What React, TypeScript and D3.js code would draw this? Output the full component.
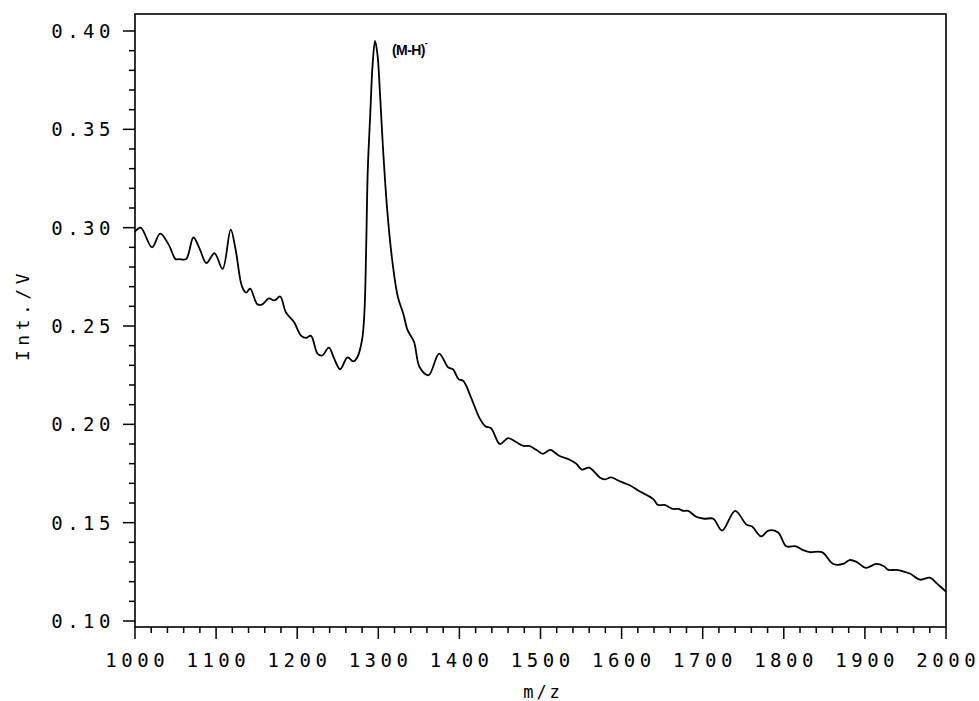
import { useEffect, useRef } from "react"
import * as d3 from "d3"

// spectrum: m/z and intensity (V)
const mz = [
  1000, 1007, 1021, 1031, 1042, 1050, 1054, 1063, 1072, 1080, 1088, 1098, 1108, 1118, 1124, 1132, 1137, 1142,
  1151, 1157, 1165, 1172, 1179, 1186, 1196, 1205, 1211, 1217, 1225, 1231, 1239, 1246, 1253, 1262, 1269, 1274,
  1280, 1283, 1285, 1287, 1290, 1293, 1296, 1299, 1302, 1306, 1311, 1317, 1324, 1331, 1336, 1344, 1351, 1362,
  1375, 1386, 1392, 1399, 1405, 1414, 1425, 1432, 1439, 1450, 1460, 1470, 1479, 1486, 1495, 1503, 1512, 1523,
  1536, 1544, 1551, 1560, 1573, 1579, 1587, 1598, 1610, 1622, 1639, 1645, 1653, 1663, 1670, 1676, 1682, 1692,
  1702, 1713, 1724, 1740, 1754, 1761, 1772, 1781, 1793, 1803, 1815, 1824, 1832, 1847, 1861, 1873, 1881, 1890,
  1901, 1914, 1923, 1929, 1939, 1949, 1956, 1968, 1980, 1989, 1997, 2000,
]
const intensity = [
  0.298, 0.3, 0.29, 0.297, 0.291, 0.284, 0.284, 0.284, 0.295, 0.289, 0.282, 0.287, 0.279, 0.299, 0.289, 0.27, 0.267, 0.269,
  0.261, 0.261, 0.264, 0.263, 0.265, 0.257, 0.252, 0.245, 0.244, 0.245, 0.236, 0.235, 0.239, 0.233, 0.228, 0.234, 0.232, 0.234,
  0.243, 0.258, 0.289, 0.329, 0.357, 0.383, 0.395, 0.388, 0.369, 0.339, 0.309, 0.284, 0.265, 0.256, 0.248, 0.242, 0.229, 0.225,
  0.236, 0.229, 0.228, 0.223, 0.222, 0.214, 0.203, 0.199, 0.198, 0.19, 0.193, 0.191, 0.189, 0.189, 0.187, 0.185, 0.187, 0.184,
  0.182, 0.18, 0.177, 0.178, 0.173, 0.172, 0.173, 0.171, 0.169, 0.166, 0.162, 0.159, 0.159, 0.157, 0.157, 0.156, 0.156, 0.153,
  0.152, 0.152, 0.146, 0.156, 0.149, 0.148, 0.143, 0.146, 0.145, 0.138, 0.138, 0.136, 0.135, 0.135, 0.129, 0.129, 0.131, 0.13,
  0.127, 0.129, 0.128, 0.126, 0.126, 0.125, 0.124, 0.121, 0.122, 0.119, 0.116, 0.115,
]

const xTicks = [1000, 1100, 1200, 1300, 1400, 1500, 1600, 1700, 1800, 1900, 2000]
const yTicks = [0.1, 0.15, 0.2, 0.25, 0.3, 0.35, 0.4]
const peakLabel = { mz: 1296, value: 0.395, text: "(M-H)" }

const FONT = "'DejaVu Sans Mono', monospace"

export default function App() {
  const svgRef = useRef<SVGSVGElement>(null)

  useEffect(() => {
    if (!svgRef.current) return
    const svg = d3.select(svgRef.current)
    svg.selectAll("*").remove()

    const left = 135
    const right = 946
    const top = 14
    const bottom = 627

    const x = d3.scaleLinear().domain([1000, 2000]).range([left, right])
    const y = d3.scaleLinear().domain([0.1, 0.4]).range([621, 31])

    // frame
    svg.append("rect")
      .attr("x", left)
      .attr("y", top)
      .attr("width", right - left)
      .attr("height", bottom - top)
      .attr("fill", "none")
      .attr("stroke", "#000")
      .attr("stroke-width", 1.6)

    // minor ticks every 20 on x, every 0.01 on y
    const xMinor = d3.range(1000, 2001, 20)
    const yMinor = d3.range(10, 41).map((d) => d / 100)

    svg.append("g")
      .selectAll("line")
      .data(xMinor)
      .join("line")
      .attr("x1", (d) => x(d))
      .attr("x2", (d) => x(d))
      .attr("y1", bottom)
      .attr("y2", (d) => (d % 100 === 0 ? bottom + 12 : bottom + 6))
      .attr("stroke", "#000")
      .attr("stroke-width", 1.5)

    svg.append("g")
      .selectAll("line")
      .data(yMinor)
      .join("line")
      .attr("y1", (d) => y(d))
      .attr("y2", (d) => y(d))
      .attr("x1", left)
      .attr("x2", (d) => (Math.round(d * 100) % 5 === 0 ? left - 12 : left - 6))
      .attr("stroke", "#000")
      .attr("stroke-width", 1.5)

    // tick labels
    svg.append("g")
      .selectAll("text")
      .data(xTicks)
      .join("text")
      .attr("x", (d) => x(d) + 2.25)
      .attr("y", 667)
      .attr("text-anchor", "middle")
      .attr("font-family", FONT)
      .attr("font-size", 19)
      .attr("letter-spacing", 4.5)
      .text((d) => d)

    svg.append("g")
      .selectAll("text")
      .data(yTicks)
      .join("text")
      .attr("x", 115)
      .attr("y", (d) => y(d) + 7)
      .attr("text-anchor", "end")
      .attr("font-family", FONT)
      .attr("font-size", 19)
      .attr("letter-spacing", 4.5)
      .text((d) => d3.format(".2f")(d))

    // axis titles
    svg.append("text")
      .attr("x", 543)
      .attr("y", 698)
      .attr("text-anchor", "middle")
      .attr("font-family", FONT)
      .attr("font-size", 17)
      .attr("letter-spacing", 3)
      .text("m/z")

    svg.append("text")
      .attr("transform", "translate(29,315) rotate(-90)")
      .attr("text-anchor", "middle")
      .attr("font-family", FONT)
      .attr("font-size", 18)
      .attr("letter-spacing", 4.5)
      .text("Int./V")

    // spectrum
    const pts: [number, number][] = mz.map((m, i) => [m, intensity[i]])
    const line = d3.line<[number, number]>()
      .x((d) => x(d[0]))
      .y((d) => y(d[1]))
      .curve(d3.curveCatmullRom.alpha(0.5))

    svg.append("path")
      .datum(pts)
      .attr("d", line)
      .attr("fill", "none")
      .attr("stroke", "#000")
      .attr("stroke-width", 1.8)
      .attr("stroke-linejoin", "round")

    // peak annotation
    const lab = svg.append("text")
      .attr("x", x(peakLabel.mz) + 17)
      .attr("y", y(peakLabel.value) + 14)
      .attr("font-family", "'Liberation Sans', Arial, sans-serif")
      .attr("font-weight", "bold")
      .attr("font-size", 14)
      .attr("letter-spacing", -0.6)
    lab.append("tspan").text(peakLabel.text)
    lab.append("tspan").attr("dy", -9).attr("font-size", 9).text("-")
  }, [])

  return (
    <svg
      ref={svgRef}
      width={979}
      height={701}
      style={{ position: "absolute", left: 0, top: 0, background: "#fff" }}
    />
  )
}
